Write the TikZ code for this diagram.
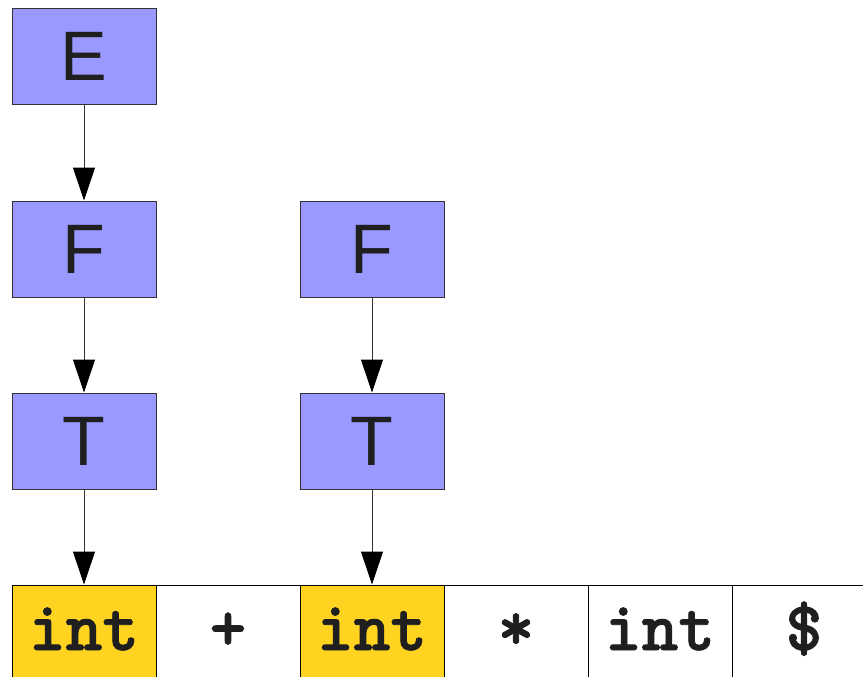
\documentclass[tikz,border=0pt]{standalone}
\usepackage{fontspec}
\setmainfont{Liberation Sans}
\usetikzlibrary{arrows.meta}
\definecolor{boxblue}{HTML}{9999FF}
\definecolor{tokyellow}{HTML}{FFD320}
\definecolor{edgegray}{HTML}{333333}
\newcommand{\heavytext}[1]{\special{pdf:literal direct 2 Tr 0.8 w}#1\special{pdf:literal direct 0 Tr}}
\tikzset{
  ntbox/.style={draw=edgegray, line width=1pt, fill=boxblue, minimum width=144pt, minimum height=96pt, inner sep=0pt, font=\fontsize{70pt}{70pt}\selectfont, text height=48pt, text depth=0pt, text=black!88},
  cellbox/.style={draw=black, line width=1pt, minimum width=144pt, minimum height=96pt, inner sep=0pt, font=\ttfamily\bfseries\fontsize{70pt}{70pt}\selectfont, text height=34pt, text depth=0pt, text=black!88},
  hl/.style={fill=tokyellow},
  edge/.style={line width=1pt, draw=black!80, -{Triangle[width=22pt,length=33pt,color=black,fill=black]}}
}
\begin{document}
\begin{tikzpicture}[x=1pt,y=-1pt]
\useasboundingbox (0,0) rectangle (863,677);
\clip (0,0) rectangle (863,677);
\node[ntbox] (E) at (84,57) {E};
\node[ntbox] (F1) at (84,249) {F};
\node[ntbox] (T1) at (84,441) {T};
\node[ntbox] (F2) at (372,249) {F};
\node[ntbox] (T2) at (372,441) {T};
\node[cellbox,hl] (c1) at (84,633) {\heavytext{int}};
\node[cellbox] (c2) at (228,633) {\heavytext{+}};
\node[cellbox,hl] (c3) at (372,633) {\heavytext{int}};
\node[cellbox] (c4) at (516,633) {\heavytext{*}};
\node[cellbox] (c5) at (660,633) {\heavytext{int}};
\node[cellbox] (c6) at (804,633) {\heavytext{\$}};
\draw[edge] (E) -- (F1);
\draw[edge] (F1) -- (T1);
\draw[edge] (T1) -- (c1);
\draw[edge] (F2) -- (T2);
\draw[edge] (T2) -- (c3);
\end{tikzpicture}
\end{document}
